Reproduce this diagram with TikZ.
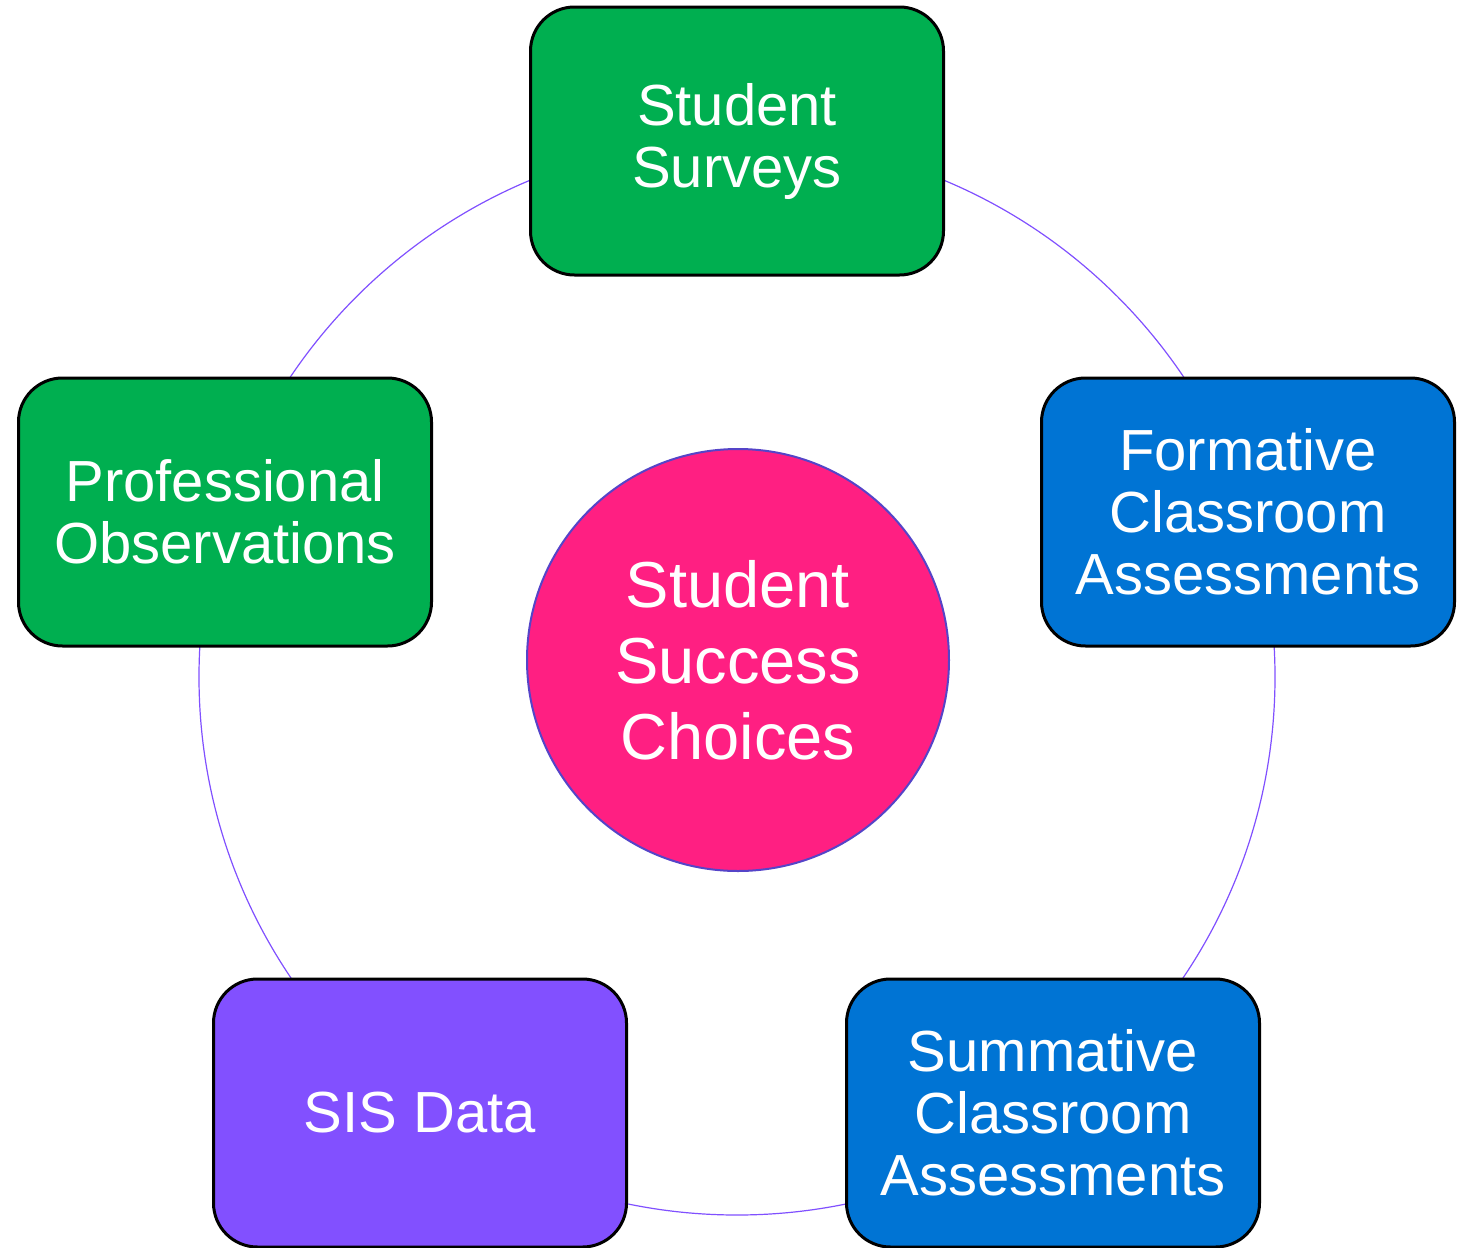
\documentclass[tikz,border=0pt]{standalone}
\usepackage{fontspec}
\setmainfont{Liberation Sans}
\usepackage{tikz}

\definecolor{srcgreen}{HTML}{00AF50}
\definecolor{srcblue}{HTML}{0074D4}
\definecolor{srcpurple}{HTML}{8250FF}
\definecolor{hubpink}{HTML}{FF1F82}
\definecolor{ringline}{HTML}{8050FF}
\definecolor{hubline}{HTML}{5544C8}

\tikzset{
  source/.style={draw=black, line width=1.5pt, rounded corners=22pt,
    minimum width=206.5pt, minimum height=134pt, text=white, align=center,
    font=\fontsize{29}{31}\selectfont},
  hub/.style={circle, draw=hubline, line width=1pt, fill=hubpink,
    minimum size=211pt, text=white, align=center,
    font=\fontsize{32.5}{38}\selectfont}
}

\begin{document}
\begin{tikzpicture}[x=0.5pt,y=-0.5pt]
                    \useasboundingbox (0,0) rectangle (1468,1248);
                    \coordinate (ring) at (737,677);

                    % the ring behind the sources
                    \draw[ringline, line width=0.6pt] (ring) circle (269pt);

                    \node[hub] (choices) at (738,660) {Student\\Success\\Choices};

                    \node[source, fill=srcgreen] (surveys) at (737,141) {Student\\Surveys};
                    \node[source, fill=srcgreen] (observations) at (225,512) {Professional\\Observations};
                    \node[source, fill=srcblue] (formative) at (1248,512) {Formative\\Classroom\\Assessments};
                    \node[source, fill=srcblue] (summative) at (1053,1113) {Summative\\Classroom\\Assessments};
                    \node[source, fill=srcpurple] (sis) at (420,1113) {SIS Data};
                \end{tikzpicture}
\end{document}
